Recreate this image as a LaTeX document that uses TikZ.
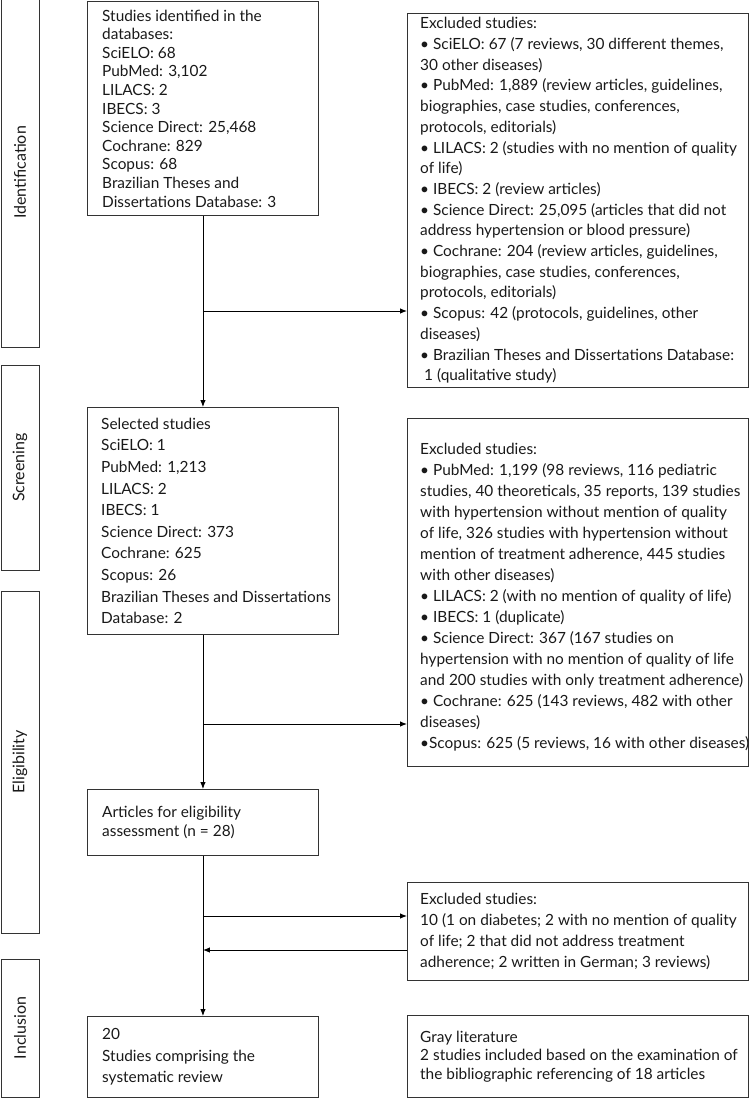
\documentclass[tikz,border=0pt]{standalone}
\usepackage{fontspec}
\setmainfont{Lato}
\usetikzlibrary{arrows.meta}
\newcommand{\fs}[1]{\fontsize{15.4}{#1}\selectfont}
\begin{document}
\begin{tikzpicture}[x=1pt,y=-1pt,
  box/.style={draw=black!80, line width=0.9pt, anchor=north west, inner sep=0pt},
  txt/.style={anchor=west, align=left, inner sep=0pt, text=black!90},
  phase/.style={draw=black!80, line width=0.9pt, rotate=90, minimum height=38pt, inner sep=0pt, font=\fontsize{16}{18}\selectfont, text=black!90},
  arr/.style={-{Latex[length=7pt,width=5.5pt]}, line width=0.9pt, draw=black}
]
\useasboundingbox (0,0) rectangle (750,1099);

% phase boxes
\node[phase, minimum width=349pt] (P1) at (20,172.5) {Identification};
\node[phase, minimum width=205pt] (P2) at (20,467.5) {Screening};
\node[phase, minimum width=342pt] (P3) at (20,762) {Eligibility};
\node[phase, minimum width=138pt] (P4) at (20,1028) {Inclusion};

% main column
\node[box, minimum width=231pt, minimum height=214pt] (B1) at (87,1) {};
\node[box, minimum width=251pt, minimum height=227pt] (B2) at (87,407) {};
\node[box, minimum width=231pt, minimum height=66pt] (B3) at (87,789) {};
\node[box, minimum width=231pt, minimum height=81pt] (B4) at (87,1016) {};

% right column
\node[box, minimum width=341pt, minimum height=374pt] (R1) at (407,13) {};
\node[box, minimum width=341pt, minimum height=348pt] (R2) at (407,418) {};
\node[box, minimum width=341pt, minimum height=98pt] (R3) at (407,882) {};
\node[box, minimum width=341pt, minimum height=82pt] (G) at (407,1015) {};

% texts
\node[txt, font=\fs{18.6}] (B1t) at ([xshift=15pt]B1.west) {Studies identified in the\\
databases:\\
SciELO: 68\\
PubMed: 3,102\\
LILACS: 2\\
IBECS: 3\\
Science Direct: 25,468\\
Cochrane: 829\\
Scopus: 68\\
Brazilian Theses and\\
Dissertations Database: 3};

\node[txt, font=\fs{21.6}] (B2t) at ([xshift=14pt]B2.west) {Selected studies\\
SciELO: 1\\
PubMed: 1,213\\
LILACS: 2\\
IBECS: 1\\
Science Direct: 373\\
Cochrane: 625\\
Scopus: 26\\
Brazilian Theses and Dissertations\\
Database: 2};

\node[txt, font=\fs{18.6}] (B3t) at ([xshift=15pt]B3.west) {Articles for eligibility\\
assessment (n = 28)};

\node[txt, font=\fs{21.6}] (B4t) at ([xshift=15pt]B4.west) {20\\
Studies comprising the\\
systematic review};

\node[txt, font=\fs{20.7}] (R1t) at ([xshift=13pt]R1.west) {Excluded studies:\\
• SciELO: 67 (7 reviews, 30 different themes,\\
30 other diseases)\\
• PubMed: 1,889 (review articles, guidelines,\\
biographies, case studies, conferences,\\
protocols, editorials)\\
• LILACS: 2 (studies with no mention of quality\\
of life)\\
• IBECS: 2 (review articles)\\
• Science Direct: 25,095 (articles that did not\\
address hypertension or blood pressure)\\
• Cochrane: 204 (review articles, guidelines,\\
biographies, case studies, conferences,\\
protocols, editorials)\\
• Scopus: 42 (protocols, guidelines, other\\
diseases)\\
• Brazilian Theses and Dissertations Database:\\
\hspace*{4pt}1 (qualitative study)};

\node[txt, font=\fs{21}] (R2t) at ([xshift=13pt,yshift=-5pt]R2.west) {Excluded studies:\\
• PubMed: 1,199 (98 reviews, 116 pediatric\\
studies, 40 theoreticals, 35 reports, 139 studies\\
with hypertension without mention of quality\\
of life, 326 studies with hypertension without\\
mention of treatment adherence, 445 studies\\
with other diseases)\\
• LILACS: 2 (with no mention of quality of life)\\
• IBECS: 1 (duplicate)\\
• Science Direct: 367 (167 studies on\\
hypertension with no mention of quality of life\\
and 200 studies with only treatment adherence)\\
• Cochrane: 625 (143 reviews, 482 with other\\
diseases)\\
•Scopus: 625 (5 reviews, 16 with other diseases)};

\node[txt, font=\fs{21}] (R3t) at ([xshift=13pt]R3.west) {Excluded studies:\\
10 (1 on diabetes; 2 with no mention of quality\\
of life; 2 that did not address treatment\\
adherence; 2 written in German; 3 reviews)};

\node[txt, font=\fs{18.5}] (Gt) at ([xshift=13pt]G.west) {Gray literature\\
2 studies included based on the examination of\\
the bibliographic referencing of 18 articles};

% connectors
\coordinate (y1) at (0,311);
\coordinate (y2) at (0,724);
\coordinate (y3) at (0,916);
\coordinate (y4) at (0,950);
\draw[arr] (B1.south) -- (B1.south |- B2.north);
\draw[arr] (B1.south |- y1) -- (R1.west |- y1);
\draw[arr] (B1.south |- B2.south) -- (B1.south |- B3.north);
\draw[arr] (B1.south |- y2) -- (R2.west |- y2);
\draw[arr] (B3.south) -- (B4.north);
\draw[arr] (B3.south |- y3) -- (R3.west |- y3);
\draw[arr] (R3.west |- y4) -- (B3.south |- y4);
\end{tikzpicture}
\end{document}
